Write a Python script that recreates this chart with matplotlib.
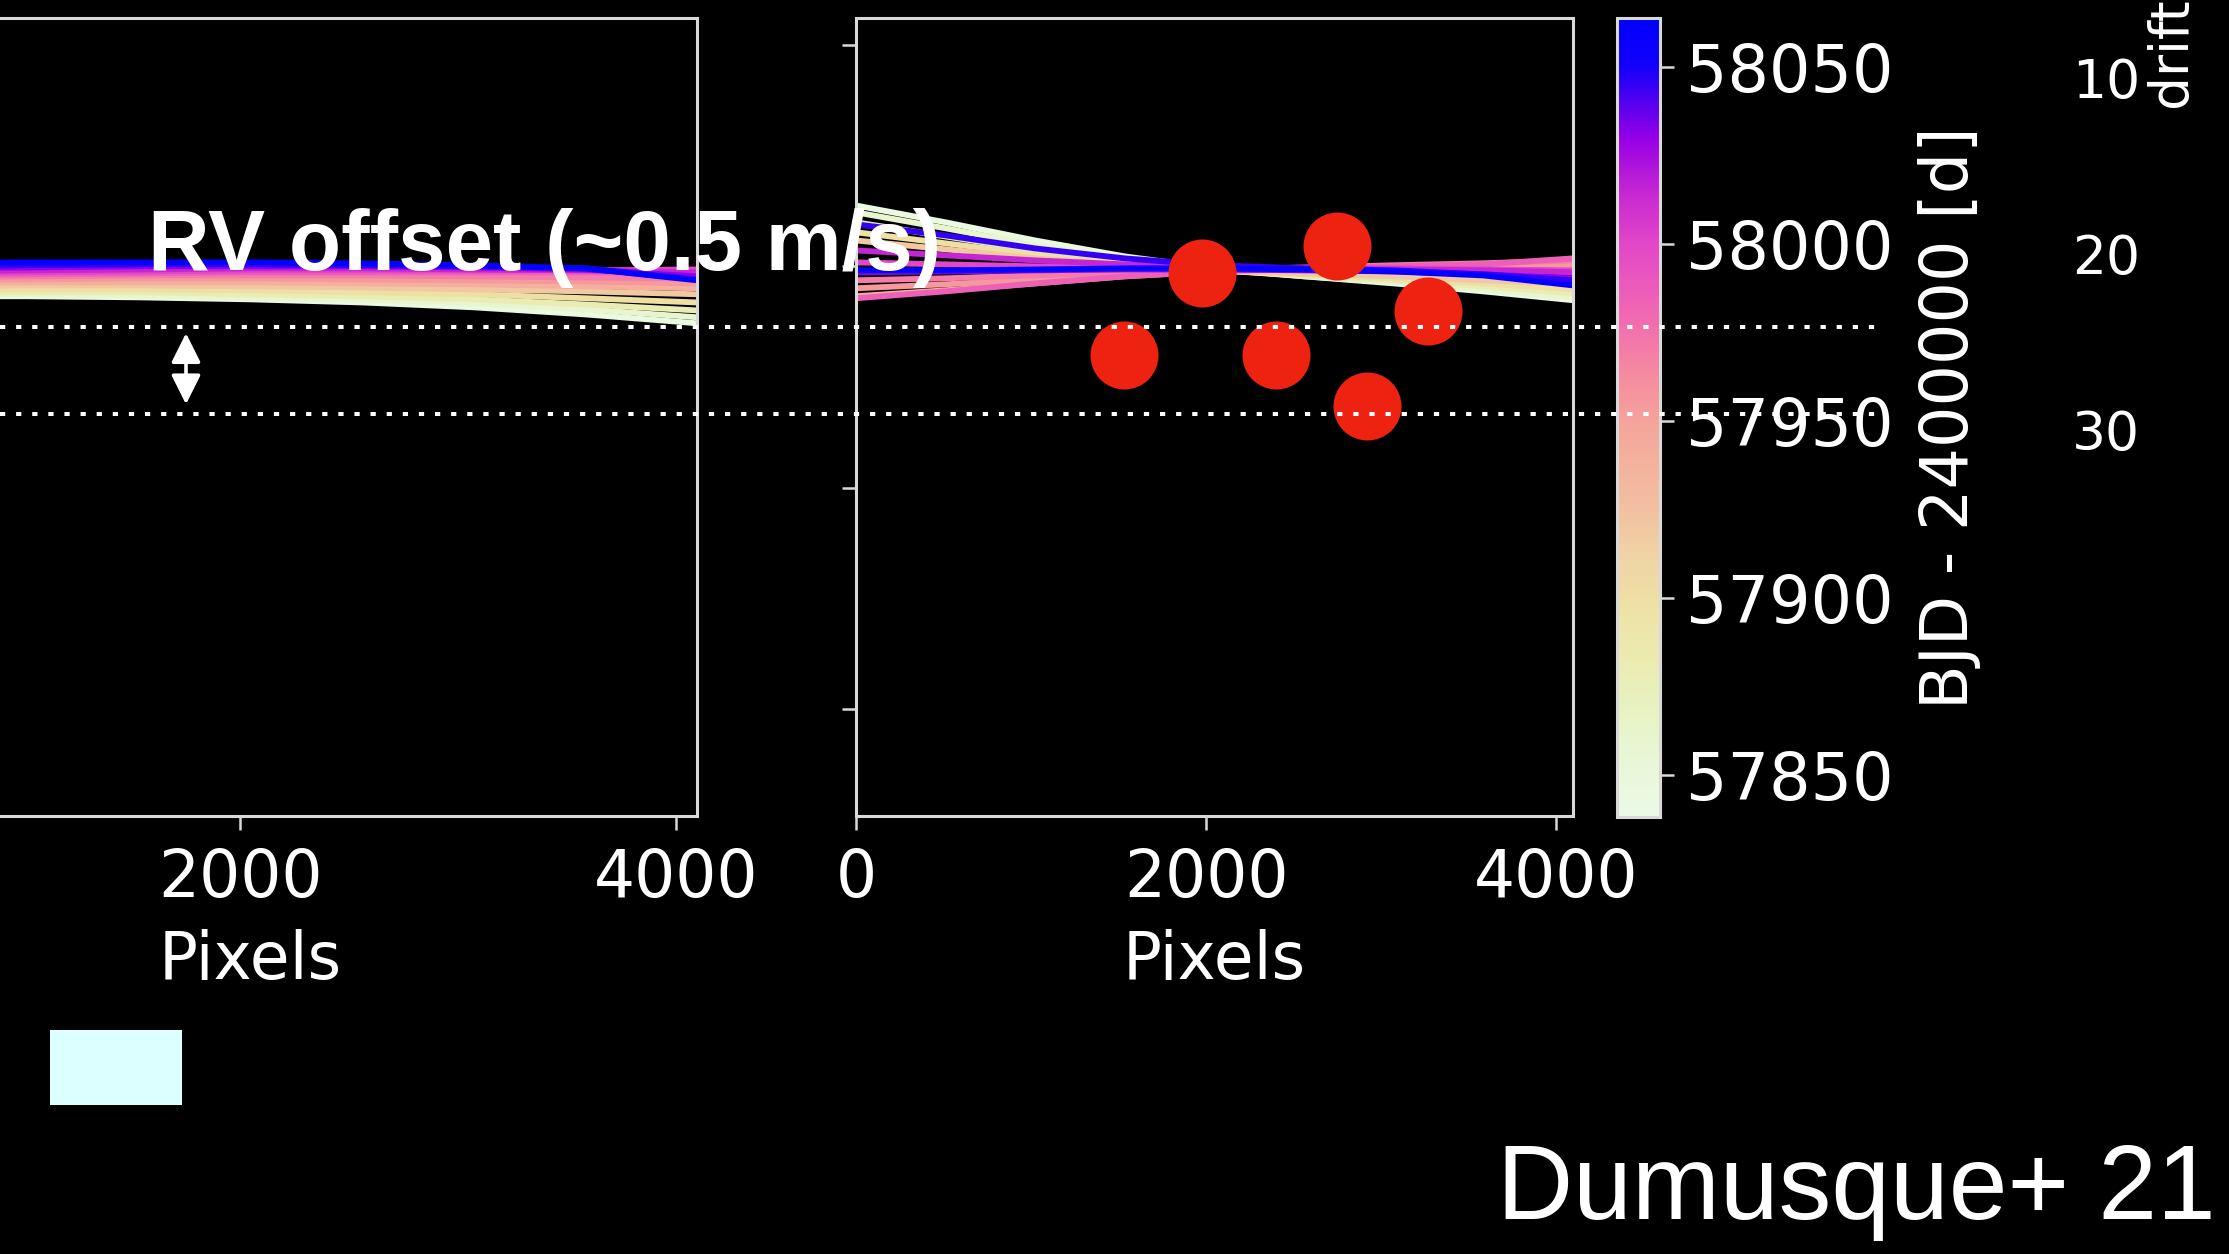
import matplotlib
matplotlib.use("Agg")
import matplotlib.pyplot as plt
from matplotlib.colors import LinearSegmentedColormap, Normalize
from matplotlib.cm import ScalarMappable
from matplotlib.lines import Line2D
from matplotlib.patches import Rectangle, FancyArrowPatch
import matplotlib.transforms as mtransforms

# ---------------------------------------------------------------- data
pixels = [0, 512, 1024, 1536, 2048, 2560, 3072, 3584, 4096]

bjd = [57845, 57860, 57880, 57900, 57920, 57940, 57955,
       57970, 57985, 58000, 58015, 58030, 58045, 58060]

# wavelength-solution drift per epoch, old calibration
left_drift = [
    [1.865, 1.865, 1.865, 1.860, 1.851, 1.837, 1.815, 1.783, 1.743],
    [1.874, 1.874, 1.874, 1.869, 1.860, 1.851, 1.833, 1.806, 1.770],
    [1.883, 1.883, 1.883, 1.883, 1.874, 1.865, 1.851, 1.828, 1.801],
    [1.896, 1.896, 1.896, 1.896, 1.892, 1.883, 1.874, 1.856, 1.837],
    [1.910, 1.910, 1.914, 1.914, 1.910, 1.905, 1.896, 1.887, 1.874],
    [1.923, 1.923, 1.928, 1.928, 1.928, 1.923, 1.919, 1.910, 1.901],
    [1.937, 1.937, 1.941, 1.946, 1.946, 1.941, 1.937, 1.932, 1.923],
    [1.950, 1.950, 1.955, 1.959, 1.959, 1.959, 1.955, 1.950, 1.946],
    [1.959, 1.959, 1.964, 1.968, 1.973, 1.973, 1.973, 1.973, 1.973],
    [1.968, 1.968, 1.973, 1.977, 1.982, 1.982, 1.982, 1.982, 1.986],
    [1.977, 1.977, 1.982, 1.986, 1.991, 1.991, 1.986, 1.982, 1.973],
    [1.991, 1.991, 1.995, 2.000, 2.000, 2.000, 1.995, 1.986, 1.955],
    [2.000, 2.000, 2.005, 2.009, 2.009, 2.005, 2.000, 1.991, 1.941],
    [2.014, 2.014, 2.018, 2.018, 2.018, 2.014, 2.005, 1.991, 1.937],
]

# wavelength-solution drift per epoch, new calibration
right_drift = [
    [2.275, 2.199, 2.117, 2.045, 1.991, 1.955, 1.923, 1.887, 1.847],
    [2.244, 2.172, 2.095, 2.032, 1.986, 1.955, 1.928, 1.896, 1.860],
    [2.199, 2.135, 2.072, 2.018, 1.982, 1.959, 1.937, 1.910, 1.878],
    [2.154, 2.104, 2.054, 2.009, 1.982, 1.964, 1.946, 1.923, 1.896],
    [2.117, 2.077, 2.036, 2.005, 1.982, 1.968, 1.955, 1.937, 1.919],
    [1.865, 1.892, 1.923, 1.955, 1.977, 1.986, 1.991, 1.991, 1.991],
    [1.901, 1.919, 1.941, 1.964, 1.982, 1.991, 1.995, 2.000, 2.009],
    [1.937, 1.946, 1.959, 1.973, 1.986, 1.995, 2.005, 2.014, 2.027],
    [1.856, 1.887, 1.923, 1.955, 1.977, 1.991, 2.000, 2.009, 2.036],
    [2.018, 2.009, 2.000, 1.995, 1.991, 1.991, 1.991, 1.986, 1.982],
    [2.072, 2.050, 2.027, 2.009, 1.995, 1.991, 1.986, 1.982, 1.973],
    [1.973, 1.977, 1.982, 1.986, 1.986, 1.982, 1.977, 1.964, 1.946],
    [2.190, 2.140, 2.081, 2.036, 2.005, 1.991, 1.982, 1.964, 1.937],
    [1.982, 1.982, 1.986, 1.991, 1.991, 1.986, 1.977, 1.959, 1.914],
]

spot_pixel = [1530, 1975, 2745, 2400, 3265, 2920]
spot_drift = [1.60, 1.97, 2.09, 1.60, 1.80, 1.37]

offset_levels = [1.725, 1.332]
arrow_span = [1.698, 1.377]

pixel_ticks_left = [2000, 4000]
pixel_ticks = [0, 2000, 4000]
drift_ticks_main = [0, 1, 2, 3]
cbar_ticks = [57850, 57900, 57950, 58000, 58050]
drift_ticks = [10, 20, 30]

# ---------------------------------------------------------------- style
W, H = 2229, 1254
FG = "#d9d9d9"
TICK_FS = 46.5

cmap = LinearSegmentedColormap.from_list("bjd", [
    (0.00, "#ebfae6"), (0.07, "#e8f7d7"), (0.13, "#e8f2c3"),
    (0.20, "#ebebaf"), (0.265, "#eee1a5"), (0.33, "#f0d2a5"),
    (0.39, "#f2bea0"), (0.49, "#f5a59b"), (0.55, "#f58ca0"),
    (0.64, "#f064b4"), (0.72, "#e146c8"), (0.78, "#c828d2"),
    (0.85, "#9600e6"), (0.94, "#1400fa"), (1.00, "#0000ff")])
norm = Normalize(vmin=57838, vmax=58064)


def box(x0, y0, x1, y1):
    return [x0 / W, 1 - y1 / H, (x1 - x0) / W, (y1 - y0) / H]


fig = plt.figure(figsize=(W / 100, H / 100), dpi=100, facecolor="black")

ax1 = fig.add_axes(box(-196, 18, 697, 816))
ax2 = fig.add_axes(box(856, 18, 1573, 816))
cax = fig.add_axes(box(1617, 18, 1660, 817))
dax = fig.add_axes(box(2000, 18, 2058, 816))

for ax, rows in ((ax1, left_drift), (ax2, right_drift)):
    ax.set_facecolor("black")
    for b, row in zip(bjd, rows):
        ax.plot(pixels, row, color=cmap(norm(b)), lw=4.2,
                solid_capstyle="butt")
    ax.set_xlim(0, 4096)
    ax.set_ylim(-0.483, 3.122)
    ax.set_yticks(drift_ticks_main)
    for sp in ax.spines.values():
        sp.set_color(FG)
        sp.set_linewidth(2.2)
    ax.tick_params(colors=FG, labelcolor="white", labelsize=TICK_FS,
                   length=10, width=1.8, pad=12.5)
    ax.set_xlabel("Pixels", color="white", fontsize=TICK_FS, labelpad=13)

ax1.set_xticks(pixel_ticks_left)
ax2.set_xticks(pixel_ticks)
ax1.tick_params(labelleft=False)
ax2.tick_params(labelleft=False)

ax2.scatter(spot_pixel, spot_drift, s=2400, color="#ee2211",
            linewidths=0, zorder=5)

# colour bar of observation epoch
cb = fig.colorbar(ScalarMappable(norm=norm, cmap=cmap), cax=cax,
                  ticks=cbar_ticks)
cb.outline.set_edgecolor(FG)
cb.outline.set_linewidth(2.2)
cax.tick_params(colors=FG, labelcolor="white", labelsize=47,
                length=10, width=1.8, pad=8.5)
cb.set_label("BJD - 2400000 [d]", color="white", fontsize=47)
cax.yaxis.set_label_coords(7.0, 0.5)

# secondary drift scale
dax.set_ylim(51.87, 6.657)
dax.set_yticks(drift_ticks)
dax.set_xticks([])
dax.yaxis.tick_right()
dax.yaxis.set_label_position("right")
dax.patch.set_visible(False)
for sp in dax.spines.values():
    sp.set_visible(False)
dax.tick_params(length=0, labelsize=38.5, labelcolor="white", pad=10)
dax.set_ylabel("drift", color="white", fontsize=38.5)
dax.yaxis.set_label_coords(2.5, 0.957)

# offset guides and arrow
trans = mtransforms.blended_transform_factory(fig.transFigure, ax2.transData)
for lvl in offset_levels:
    fig.add_artist(Line2D([0, 1880 / W], [lvl, lvl], transform=trans,
                          color="white", lw=2.9, linestyle=(0, (1.3, 2.7)),
                          zorder=6))
fig.add_artist(FancyArrowPatch((186 / W, arrow_span[0]), (186 / W, arrow_span[1]),
                               transform=trans, color="white", lw=2.6,
                               arrowstyle="<|-|>,head_length=1.0,head_width=0.5",
                               mutation_scale=18, shrinkA=0, shrinkB=0,
                               zorder=6))

fig.text(148 / W, 1 - 270 / H, "RV offset (~0.5 m/s)", color="white",
         fontsize=61.5, fontweight="bold", family="Liberation Sans",
         ha="left", va="baseline", zorder=10)
fig.text(1497 / W, 1 - 1219 / H, "Dumusque+ 21", color="white",
         fontsize=76, family="Liberation Sans", ha="left", va="baseline",
         zorder=10)

fig.add_artist(Rectangle((50 / W, 1 - 1105 / H), 132 / W, 75 / H,
                         transform=fig.transFigure, facecolor="#dcffff",
                         edgecolor="none"))

fig.savefig("out.png", dpi=100, facecolor="black")
